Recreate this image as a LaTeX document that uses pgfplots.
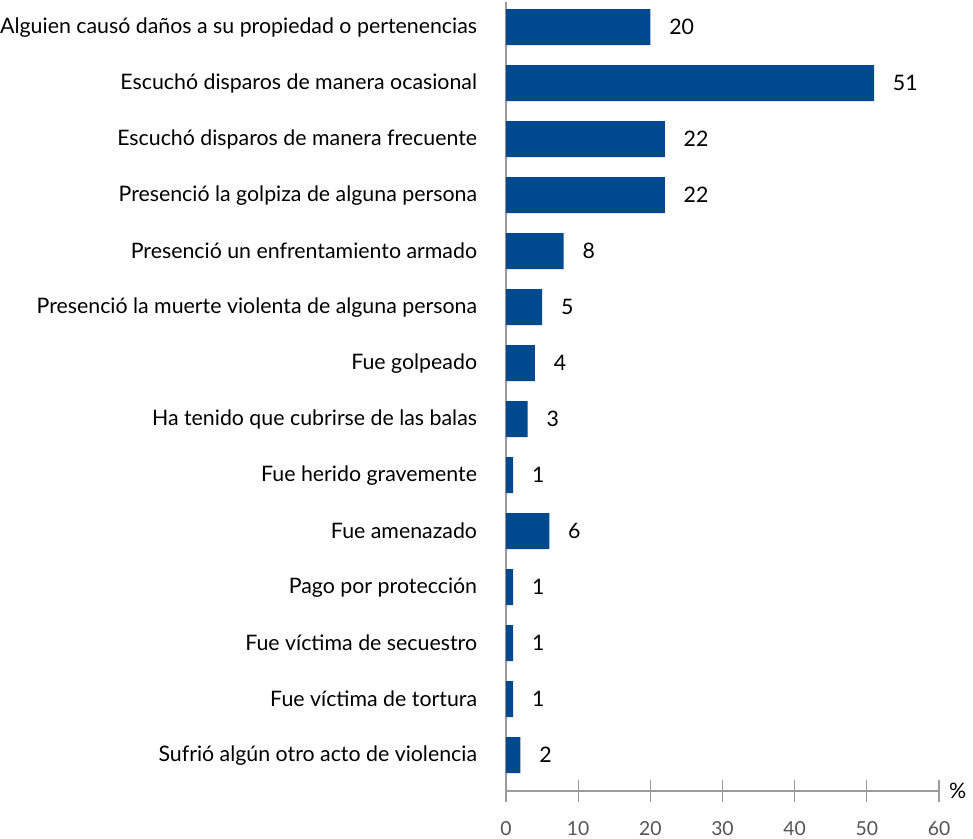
\documentclass[border=0pt]{standalone}
\usepackage{pgfplots}
\pgfplotsset{compat=1.18}
\usepackage{fontspec}
\setmainfont{Lato}
\definecolor{barblue}{RGB}{0,73,144}
\definecolor{axgray}{RGB}{155,155,155}
\definecolor{tickgray}{RGB}{85,85,85}
\pgfplotstableread{
y x
13 20
12 51
11 22
10 22
9 8
8 5
7 4
6 3
5 1
4 6
3 1
2 1
1 1
0 2
}\datatable
\begin{document}
\begin{tikzpicture}
\begin{axis}[
  at={(0,0)}, anchor=south west,
  scale only axis, width=324.75pt, height=591.75pt,
  xmin=0, xmax=60, ymin=-0.64, ymax=13.45,
  axis x line*=bottom, axis y line*=left,
  axis line style={axgray, line width=1.5pt},
  xtick={0,10,...,60},
  tick align=center, major tick length=17pt,
  x tick style={axgray, line width=0.9pt},
  y tick style={draw=none},
  ytick={0,...,13},
  yticklabels={
    Sufrió algún otro acto de violencia,
    Fue víctima de tortura,
    Fue víctima de secuestro,
    Pago por protección,
    Fue amenazado,
    Fue herido gravemente,
    Ha tenido que cubrirse de las balas,
    Fue golpeado,
    Presenció la muerte violenta de alguna persona,
    Presenció un enfrentamiento armado,
    Presenció la golpiza de alguna persona,
    Escuchó disparos de manera frecuente,
    Escuchó disparos de manera ocasional\hspace{-5.25pt},
    Alguien causó daños a su propiedad o pertenencias\hspace{-2.5pt}},
  yticklabel style={anchor=east, inner sep=0pt, xshift=-4.5pt, font=\fontsize{16pt}{19pt}\selectfont, text=black},
  xticklabel style={anchor=north, inner sep=0pt, yshift=-14.25pt, font=\fontsize{14.5pt}{17pt}\selectfont, text=tickgray},
  /pgf/number format/assume math mode=true,
  clip=false,
  xbar, bar width=27pt,
  nodes near coords,
  nodes near coords style={anchor=west, inner sep=0pt, xshift=14pt, font=\fontsize{16pt}{19pt}\selectfont, text=black},
]
\addplot[fill=barblue, draw=none] table[x=x, y=y] {\datatable};
\node[font=\fontsize{16pt}{19pt}\selectfont, text=black] at (axis cs:62.6,-0.64) {\%};
\end{axis}
\pgfresetboundingbox
\useasboundingbox (-379.5pt,-35.25pt) rectangle (350.25pt,593.25pt);
\end{tikzpicture}
\end{document}
